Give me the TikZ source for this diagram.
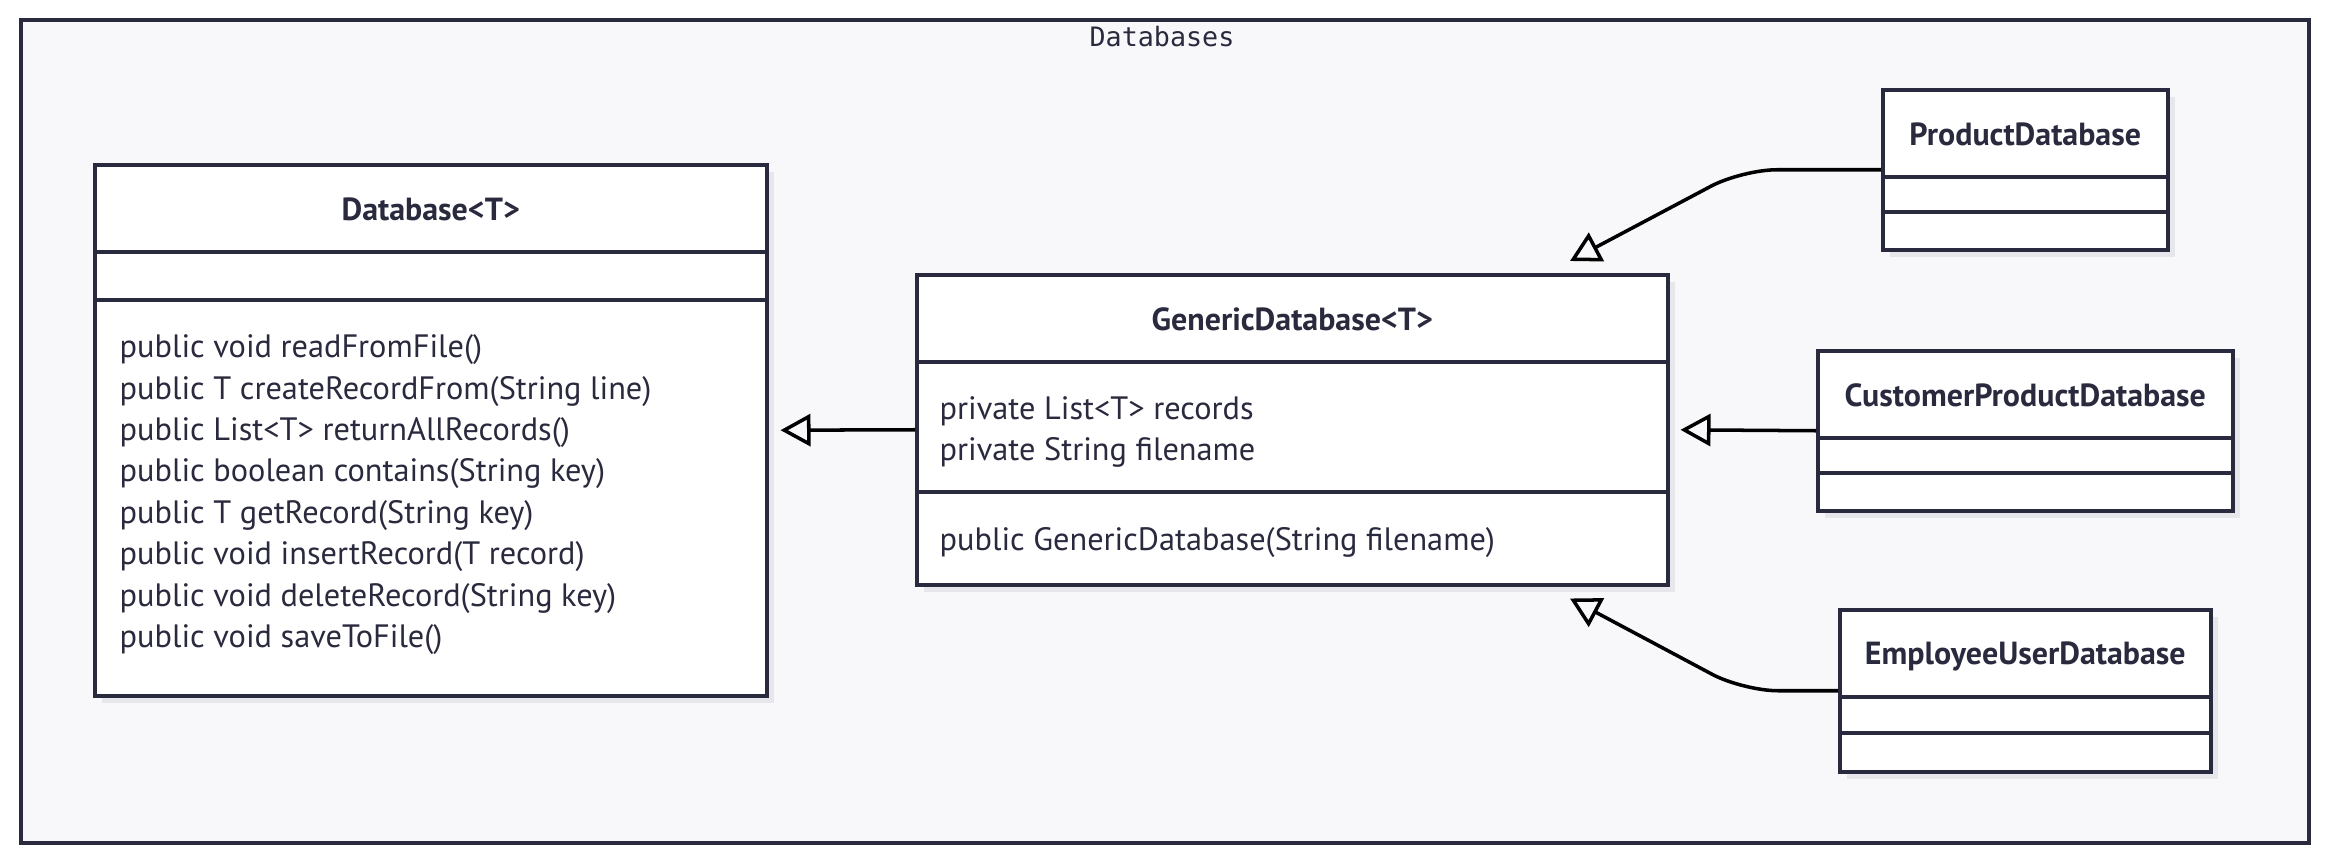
\documentclass[tikz,border=0pt]{standalone}
\usepackage{fontspec}
\setmainfont{PT Sans}
\setmonofont{DejaVu Sans Mono}
\usepackage{tikz}
\usetikzlibrary{arrows.meta,positioning,calc,shadows}
\definecolor{inkdark}{HTML}{2A2A3E}
\definecolor{panelbg}{HTML}{F8F8FA}
\definecolor{shadowgray}{HTML}{E6E6EB}

\begin{document}
\begin{tikzpicture}[inherit/.style={-{Triangle[open,length=0.3cm,width=0.32cm]}, line width=1pt, black},
           classbox/.style={draw=inkdark, line width=1pt, fill=white, anchor=north west, inner sep=0pt,
             drop shadow={shadow xshift=0.07cm, shadow yshift=-0.07cm, fill=shadowgray, opacity=1}},
           classname/.style={font=\fontsize{9.1}{10}\selectfont\bfseries, text=inkdark},
           members/.style={font=\fontsize{9.2}{11.8}\selectfont, text=inkdark, align=left, anchor=west, inner sep=0pt},
           sep/.style={draw=inkdark, line width=1pt}]
          \useasboundingbox (0,0) rectangle (23.26,-8.58);
          \node[draw=inkdark, line width=1pt, fill=panelbg, anchor=north west, inner sep=0pt,
            minimum width=22.88cm, minimum height=8.23cm] (frame) at (0.19,-0.18) {};
          \node[font=\ttfamily\fontsize{7.6}{9}\selectfont, text=inkdark] (frametitle) at (11.62,-0.37) {Databases};

          % Database<T>
          \node[classbox, minimum width=6.72cm, minimum height=5.31cm] (db) at (0.93,-1.63) {};
          \draw[sep] (db.north west) ++(0,-0.89) -- ++(6.72,0);
          \draw[sep] (db.north west) ++(0,-1.37) -- ++(6.72,0);
          \node[classname] (dbname) at ($(db.north)+(0,-0.46)$) {Database<T>};
          \node[members] (dbops) at ($(db.west)+(0.26,-0.645)$) {public void readFromFile()\\
            public T createRecordFrom(String line)\\
            public List<T> returnAllRecords()\\
            public boolean contains(String key)\\
            public T getRecord(String key)\\
            public void insertRecord(T record)\\
            public void deleteRecord(String key)\\
            public void saveToFile()};

          % GenericDatabase<T>
          \node[classbox, minimum width=7.51cm, minimum height=3.10cm] (gen) at (9.15,-2.73) {};
          \draw[sep] (gen.north west) ++(0,-0.89) -- ++(7.51,0);
          \draw[sep] (gen.north west) ++(0,-2.19) -- ++(7.51,0);
          \node[classname] (genname) at ($(gen.north)+(0,-0.46)$) {GenericDatabase<T>};
          \node[members] (genattr) at ($(gen.west)+(0.24,-0.02)$) {private List<T> records\\
            private String filename};
          \node[members] (genops) at ($(gen.west)+(0.24,-1.13)$) {public GenericDatabase(String filename)};

          % subclasses
          \node[classbox, minimum width=2.85cm, minimum height=1.60cm] (prod) at (18.81,-0.88) {};
          \draw[sep] (prod.north west) ++(0,-0.89) -- ++(2.85,0);
          \draw[sep] (prod.north west) ++(0,-1.24) -- ++(2.85,0);
          \node[classname] (prodname) at ($(prod.north)+(0,-0.46)$) {ProductDatabase};

          \node[classbox, minimum width=4.15cm, minimum height=1.60cm] (cust) at (18.16,-3.49) {};
          \draw[sep] (cust.north west) ++(0,-0.89) -- ++(4.15,0);
          \draw[sep] (cust.north west) ++(0,-1.24) -- ++(4.15,0);
          \node[classname] (custname) at ($(cust.north)+(0,-0.46)$) {CustomerProductDatabase};

          \node[classbox, minimum width=3.71cm, minimum height=1.62cm] (emp) at (18.38,-6.08) {};
          \draw[sep] (emp.north west) ++(0,-0.89) -- ++(3.71,0);
          \draw[sep] (emp.north west) ++(0,-1.25) -- ++(3.71,0);
          \node[classname] (empname) at ($(emp.north)+(0,-0.48)$) {EmployeeUserDatabase};

          % generalisation arrows
          \coordinate (prodtip) at ($(gen.north west)+(6.55,0.12)$);
          \coordinate (emptip) at ($(gen.south west)+(6.55,-0.12)$);
          \draw[inherit, shorten >=0.12cm] (gen.west) -- (db.east);
          \draw[inherit, shorten >=0.11cm] (cust.west) -- (gen.east);
          \draw[inherit, rounded corners=0.35cm] (prod.west) -- ($(prod.west)+(-1.39,0)$) -- (prodtip);
          \draw[inherit, rounded corners=0.35cm] (emp.west) -- ($(emp.west)+(-0.95,0)$) -- (emptip);
         \end{tikzpicture}
\end{document}
